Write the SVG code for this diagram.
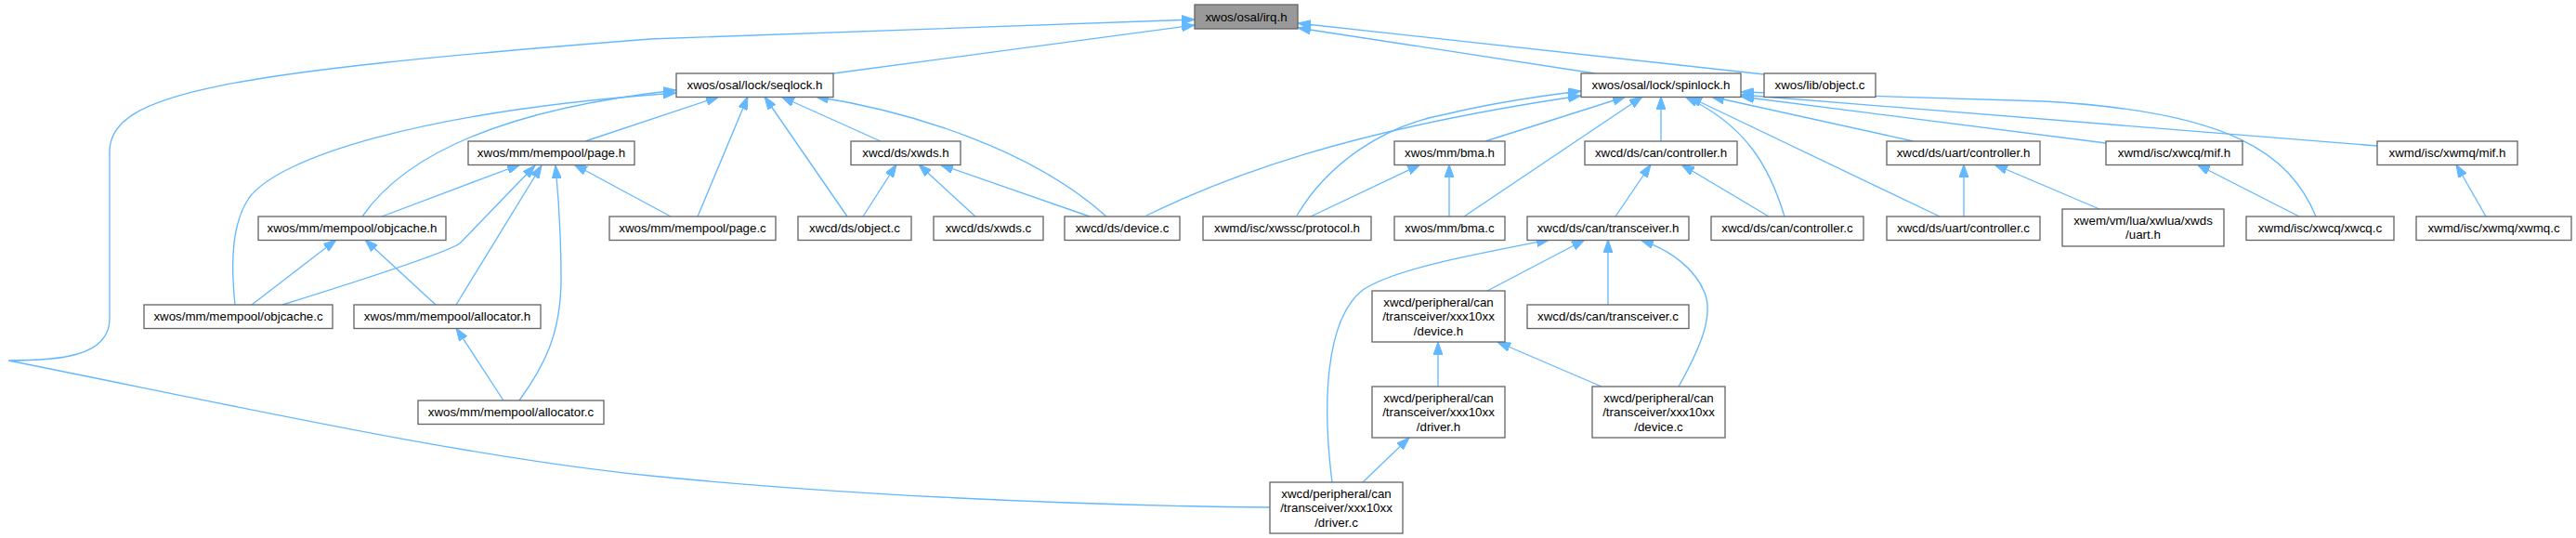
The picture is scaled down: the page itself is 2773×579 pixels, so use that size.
<svg xmlns="http://www.w3.org/2000/svg" width="2773" height="579" viewBox="0 0 2773 579">
<style>
.n rect{fill:#fff;stroke:#666;stroke-width:1.33}
.n text{font-family:"Liberation Sans",Arial,sans-serif;font-size:13.33px;text-anchor:middle;fill:#000}
#irq rect{fill:#999}
.e path{fill:none;stroke:#63b8ff;stroke-width:1.33;marker-end:url(#ah)}
</style>
<defs>
<marker id="ah" markerUnits="userSpaceOnUse" markerWidth="14" markerHeight="10" viewBox="0 0 13.3 9.4" refX="13.3" refY="4.7" orient="auto">
<path d="M0,0 L13.3,4.7 L0,9.4 z" fill="#63b8ff" stroke="#63b8ff" stroke-width="1"/>
</marker>
</defs>
<rect width="2773" height="579" fill="#fff"/>
<g class="e" id="edges">
<path d="M897,79 L1286,27"/>
<path d="M1367,546 C1150,544 900,532 700,512 S250,436 9,388 C60,388 118,385 118,343 L118,163 C118,100 240,78 700,42 L1286,21"/>
<path d="M1717,79 L1397,30"/>
<path d="M1899,80 L1397,25"/>
<path d="M630,152 L774,104"/>
<path d="M751,233 L805,104"/>
<path d="M912,233 L823,104"/>
<path d="M948,152 L841,104"/>
<path d="M1191,233 C1110,160 980,120 878,104"/>
<path d="M390,233 C430,175 520,120 728,97"/>
<path d="M253,328 C248,280 250,240 268,213 C300,170 450,120 728,100"/>
<path d="M411,233 L560,177"/>
<path d="M304,328 C410,295 480,272 495,262 L576,178"/>
<path d="M491,328 L583,178"/>
<path d="M559,431 C585,395 604,360 604,300 C604,250 601,210 598,178"/>
<path d="M722,233 L618,177"/>
<path d="M271,328 L362,258"/>
<path d="M469,328 L393,258"/>
<path d="M542,431 L491,353"/>
<path d="M929,233 L965,177"/>
<path d="M1050,233 L989,177"/>
<path d="M1173,233 L1012,177"/>
<path d="M1234,232 C1320,190 1450,140 1702,103"/>
<path d="M1396,232 C1430,175 1490,135 1556,123 C1610,110 1660,103 1702,98"/>
<path d="M1411,233 L1529,177"/>
<path d="M1560,233 L1560,177"/>
<path d="M1599,152 L1750,104"/>
<path d="M1576,233 L1768,104"/>
<path d="M1788,152 L1788,104"/>
<path d="M1921,233 C1905,180 1880,135 1814,104"/>
<path d="M2088,233 L1818,104"/>
<path d="M2060,152 L1842,104"/>
<path d="M2493,233 C2465,165 2400,120 2200,109 C2050,104 1950,102 1874,99"/>
<path d="M2559,157 L1874,102"/>
<path d="M2267,154 L1874,104"/>
<path d="M1739,233 L1777,177"/>
<path d="M1904,233 L1810,177"/>
<path d="M2114,233 L2114,177"/>
<path d="M2260,225 L2147,177"/>
<path d="M2475,233 L2365,177"/>
<path d="M2676,233 L2644,177"/>
<path d="M1434,519 C1424,440 1425,345 1467,312 C1500,290 1580,275 1668,258"/>
<path d="M1601,313 L1706,258"/>
<path d="M1731,328 L1731,258"/>
<path d="M1807,416 C1830,375 1845,340 1835,315 C1825,290 1800,270 1766,258"/>
<path d="M1548,416 L1548,368"/>
<path d="M1724,416 L1612,368"/>
<path d="M1467,519 L1517,471"/>
</g>
<g class="n" id="irq"><rect x="1286" y="5" width="111" height="26"/><text x="1341.5" y="22.7">xwos/osal/irq.h</text></g>
<g class="n" id="seqlock"><rect x="728" y="79" width="169" height="25.5"/><text x="812.5" y="96">xwos/osal/lock/seqlock.h</text></g>
<g class="n" id="spinlock"><rect x="1702" y="79" width="172" height="25.5"/><text x="1788" y="96">xwos/osal/lock/spinlock.h</text></g>
<g class="n" id="libobject"><rect x="1899" y="79" width="120" height="25.5"/><text x="1959" y="96">xwos/lib/object.c</text></g>
<g class="n" id="pageh"><rect x="504" y="152" width="179" height="25.5"/><text x="593.5" y="169">xwos/mm/mempool/page.h</text></g>
<g class="n" id="xwdsh"><rect x="916" y="152" width="118" height="25.5"/><text x="975" y="169">xwcd/ds/xwds.h</text></g>
<g class="n" id="bmah"><rect x="1501" y="152" width="119" height="25.5"/><text x="1560.5" y="169">xwos/mm/bma.h</text></g>
<g class="n" id="canctrlh"><rect x="1706" y="152" width="164" height="25.5"/><text x="1788" y="169">xwcd/ds/can/controller.h</text></g>
<g class="n" id="uartctrlh"><rect x="2031" y="152" width="165" height="25.5"/><text x="2113.5" y="169">xwcd/ds/uart/controller.h</text></g>
<g class="n" id="xwcqmifh"><rect x="2267" y="152" width="147" height="25.5"/><text x="2340.5" y="169">xwmd/isc/xwcq/mif.h</text></g>
<g class="n" id="xwmqmifh"><rect x="2559" y="152" width="151" height="25.5"/><text x="2634.5" y="169">xwmd/isc/xwmq/mif.h</text></g>
<g class="n" id="objcacheh"><rect x="278" y="233" width="202" height="25.5"/><text x="379" y="250">xwos/mm/mempool/objcache.h</text></g>
<g class="n" id="pagec"><rect x="656" y="233" width="179" height="25.5"/><text x="745.5" y="250">xwos/mm/mempool/page.c</text></g>
<g class="n" id="objectc"><rect x="859" y="233" width="122" height="25.5"/><text x="920" y="250">xwcd/ds/object.c</text></g>
<g class="n" id="xwdsc"><rect x="1005" y="233" width="118" height="25.5"/><text x="1064" y="250">xwcd/ds/xwds.c</text></g>
<g class="n" id="devicec"><rect x="1146" y="233" width="124" height="25.5"/><text x="1208" y="250">xwcd/ds/device.c</text></g>
<g class="n" id="protocolh"><rect x="1295" y="233" width="181" height="25.5"/><text x="1385.5" y="250">xwmd/isc/xwssc/protocol.h</text></g>
<g class="n" id="bmac"><rect x="1501" y="233" width="119" height="25.5"/><text x="1560.5" y="250">xwos/mm/bma.c</text></g>
<g class="n" id="cantrxh"><rect x="1644" y="233" width="174" height="25.5"/><text x="1731" y="250">xwcd/ds/can/transceiver.h</text></g>
<g class="n" id="canctrlc"><rect x="1842" y="233" width="164" height="25.5"/><text x="1924" y="250">xwcd/ds/can/controller.c</text></g>
<g class="n" id="uartctrlc"><rect x="2031" y="233" width="165" height="25.5"/><text x="2113.5" y="250">xwcd/ds/uart/controller.c</text></g>
<g class="n" id="uarth"><rect x="2220" y="225" width="174" height="40"/><text x="2307" y="242">xwem/vm/lua/xwlua/xwds</text><text x="2307" y="257.3">/uart.h</text></g>
<g class="n" id="xwcqc"><rect x="2418" y="233" width="159" height="25.5"/><text x="2497.5" y="250">xwmd/isc/xwcq/xwcq.c</text></g>
<g class="n" id="xwmqc"><rect x="2601" y="233" width="167" height="25.5"/><text x="2684.5" y="250">xwmd/isc/xwmq/xwmq.c</text></g>
<g class="n" id="objcachec"><rect x="155" y="328" width="203" height="25.5"/><text x="256.5" y="345">xwos/mm/mempool/objcache.c</text></g>
<g class="n" id="allocatorh"><rect x="381" y="328" width="201" height="25.5"/><text x="481.5" y="345">xwos/mm/mempool/allocator.h</text></g>
<g class="n" id="cantrxc"><rect x="1644" y="328" width="174" height="25.5"/><text x="1731" y="345">xwcd/ds/can/transceiver.c</text></g>
<g class="n" id="devh10xx"><rect x="1477" y="313" width="143" height="55"/><text x="1548.5" y="329.9">xwcd/peripheral/can</text><text x="1548.5" y="345.2">/transceiver/xxx10xx</text><text x="1548.5" y="360.5">/device.h</text></g>
<g class="n" id="allocatorc"><rect x="450" y="431" width="200" height="25.5"/><text x="550" y="448">xwos/mm/mempool/allocator.c</text></g>
<g class="n" id="drvh10xx"><rect x="1477" y="416" width="143" height="55"/><text x="1548.5" y="432.9">xwcd/peripheral/can</text><text x="1548.5" y="448.2">/transceiver/xxx10xx</text><text x="1548.5" y="463.5">/driver.h</text></g>
<g class="n" id="devc10xx"><rect x="1714" y="416" width="143" height="55"/><text x="1785.5" y="432.9">xwcd/peripheral/can</text><text x="1785.5" y="448.2">/transceiver/xxx10xx</text><text x="1785.5" y="463.5">/device.c</text></g>
<g class="n" id="drvc10xx"><rect x="1367" y="519" width="143" height="55"/><text x="1438.5" y="535.9">xwcd/peripheral/can</text><text x="1438.5" y="551.2">/transceiver/xxx10xx</text><text x="1438.5" y="566.5">/driver.c</text></g>
</svg>
